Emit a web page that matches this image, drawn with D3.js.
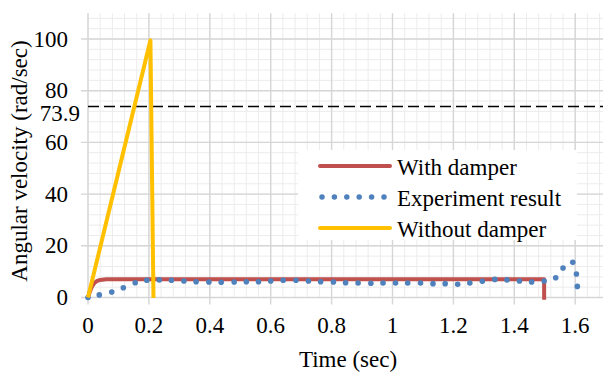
<!DOCTYPE html>
<html>
<head>
<meta charset="utf-8">
<script src="https://cdn.jsdelivr.net/npm/d3@7"></script>
<style>
  html, body { margin: 0; padding: 0; background: #fff; }
</style>
</head>
<body>
<div id="chart"></div>
<script>
// Simulated response with damper (time sec, rad/sec)
const withDamper = [
  [0, 0], [0.005, 1.9], [0.01, 3.4], [0.015, 4.6], [0.02, 5.5], [0.03, 6.4],
  [0.04, 6.8], [0.06, 7.05], [0.1, 7.1], [1.498, 7.1], [1.498, -0.9]
];

// Measured experiment points
const experiment = [
  [0, 0], [0.037, 1.0], [0.078, 2.1], [0.116, 3.8], [0.155, 5.7], [0.193, 6.65],
  [0.234, 6.8], [0.274, 6.65], [0.315, 6.4], [0.355, 6.1], [0.397, 6.0], [0.4375, 5.9],
  [0.48, 6.0], [0.52, 6.1], [0.56, 6.1], [0.60, 6.4], [0.641, 6.65], [0.683, 6.65],
  [0.724, 6.4], [0.764, 6.1], [0.806, 6.0], [0.846, 5.7], [0.887, 5.6], [0.929, 5.5],
  [0.969, 5.6], [1.01, 5.6], [1.05, 5.6], [1.092, 5.6], [1.133, 5.35], [1.173, 5.35],
  [1.214, 5.1], [1.254, 5.6], [1.295, 6.25], [1.336, 7.0], [1.376, 6.8], [1.417, 6.4],
  [1.457, 6.0], [1.498, 6.4], [1.536, 7.65], [1.56, 11.4], [1.592, 13.6], [1.604, 9.1],
  [1.607, 4.3]
];

// Without damper
const withoutDamper = [[0, 0], [0.205, 99.5], [0.215, -0.2]];

const xTicks = [0, 0.2, 0.4, 0.6, 0.8, 1, 1.2, 1.4, 1.6];
const yTicks = [0, 20, 40, 60, 80, 100];
const limitValue = 73.9;

const legendItems = [
  { label: 'With damper', color: '#C0504D', type: 'line' },
  { label: 'Experiment result', color: '#4F81BD', type: 'dots' },
  { label: 'Without damper', color: '#FFC000', type: 'line' }
];

const W = 603, H = 372;
const x0 = 88, yZero = 297.5;
const SERIF = '"Liberation Serif", "Times New Roman", serif';

const svg = d3.select('#chart').append('svg')
  .attr('width', W).attr('height', H);

const x = d3.scaleLinear().domain([0, 1.7]).range([x0, x0 + 1.7 * 304.5]);
const y = d3.scaleLinear().domain([0, 110]).range([yZero, yZero - 110 * 2.585]);

// minor grid
const g = svg.append('g');
g.selectAll('.vminor').data(d3.range(0, 1.7001, 0.04)).enter().append('line')
  .attr('x1', d => x(d)).attr('x2', d => x(d))
  .attr('y1', y(110)).attr('y2', y(0))
  .attr('stroke', '#ececec').attr('stroke-width', 1);
g.selectAll('.hminor').data(d3.range(0, 110.01, 4)).enter().append('line')
  .attr('x1', x(0)).attr('x2', x(1.7))
  .attr('y1', d => y(d)).attr('y2', d => y(d))
  .attr('stroke', '#ececec').attr('stroke-width', 1);

// major grid
g.selectAll('.vmajor').data(xTicks).enter().append('line')
  .attr('x1', d => x(d)).attr('x2', d => x(d))
  .attr('y1', y(110)).attr('y2', y(0) + 7)
  .attr('stroke', '#d6d6d6').attr('stroke-width', 1.4);
g.selectAll('.hmajor').data(yTicks).enter().append('line')
  .attr('x1', x(0) - 7).attr('x2', x(1.7))
  .attr('y1', d => y(d)).attr('y2', d => y(d))
  .attr('stroke', '#d6d6d6').attr('stroke-width', 1.4);

// tick labels
svg.append('g').selectAll('text').data(xTicks).enter().append('text')
  .attr('x', d => x(d)).attr('y', 333)
  .attr('text-anchor', 'middle')
  .style('font-family', SERIF)
  .style('font-size', '23px')
  .text(d => d);

svg.append('g').selectAll('text').data(yTicks).enter().append('text')
  .attr('x', 68).attr('y', d => y(d) + 7.5)
  .attr('text-anchor', 'end')
  .style('font-family', SERIF)
  .style('font-size', '23px')
  .text(d => d);

svg.append('text')
  .attr('x', 80).attr('y', 121)
  .attr('text-anchor', 'end')
  .style('font-family', SERIF)
  .style('font-size', '23px')
  .text(limitValue);

// axis titles
svg.append('text')
  .attr('x', 348).attr('y', 367)
  .attr('text-anchor', 'middle')
  .style('font-family', SERIF)
  .style('font-size', '23px')
  .text('Time (sec)');

svg.append('text')
  .attr('transform', 'translate(27,161) rotate(-90)')
  .attr('text-anchor', 'middle')
  .style('font-family', SERIF)
  .style('font-size', '23px')
  .text('Angular velocity (rad/sec)');

// dashed limit line
svg.append('line')
  .attr('x1', x(0)).attr('x2', x(1.7))
  .attr('y1', y(limitValue)).attr('y2', y(limitValue))
  .attr('stroke', '#000').attr('stroke-width', 1.5)
  .attr('stroke-dasharray', '11,5');

// series
const line = d3.line().x(d => x(d[0])).y(d => y(d[1]));

svg.append('path').datum(withDamper)
  .attr('d', line).attr('fill', 'none')
  .attr('stroke', '#C0504D').attr('stroke-width', 4)
  .attr('stroke-linejoin', 'round');

svg.append('g').selectAll('circle').data(experiment).enter().append('circle')
  .attr('cx', d => x(d[0])).attr('cy', d => y(d[1]))
  .attr('r', 2.8).attr('fill', '#4F81BD');

svg.append('path').datum(withoutDamper)
  .attr('d', line).attr('fill', 'none')
  .attr('stroke', '#FFC000').attr('stroke-width', 4)
  .attr('stroke-linejoin', 'round');

// legend
const legend = svg.append('g').attr('transform', 'translate(298,150)');
legend.append('rect').attr('width', 279).attr('height', 90).attr('fill', '#fff');

const item = legend.selectAll('.item').data(legendItems).enter().append('g')
  .attr('transform', (d, i) => `translate(0, ${16 + i * 31})`);

item.append('line')
  .attr('x1', d => d.type === 'dots' ? 24 : 22).attr('x2', 92)
  .attr('stroke', d => d.color)
  .attr('stroke-width', d => d.type === 'dots' ? 5.5 : 4)
  .attr('stroke-linecap', 'round')
  .attr('stroke-dasharray', d => d.type === 'dots' ? '0,12.4' : null);

item.append('text')
  .attr('x', 99).attr('y', 8.5)
  .style('font-family', SERIF)
  .style('font-size', '23px')
  .text(d => d.label);
</script>
</body>
</html>
